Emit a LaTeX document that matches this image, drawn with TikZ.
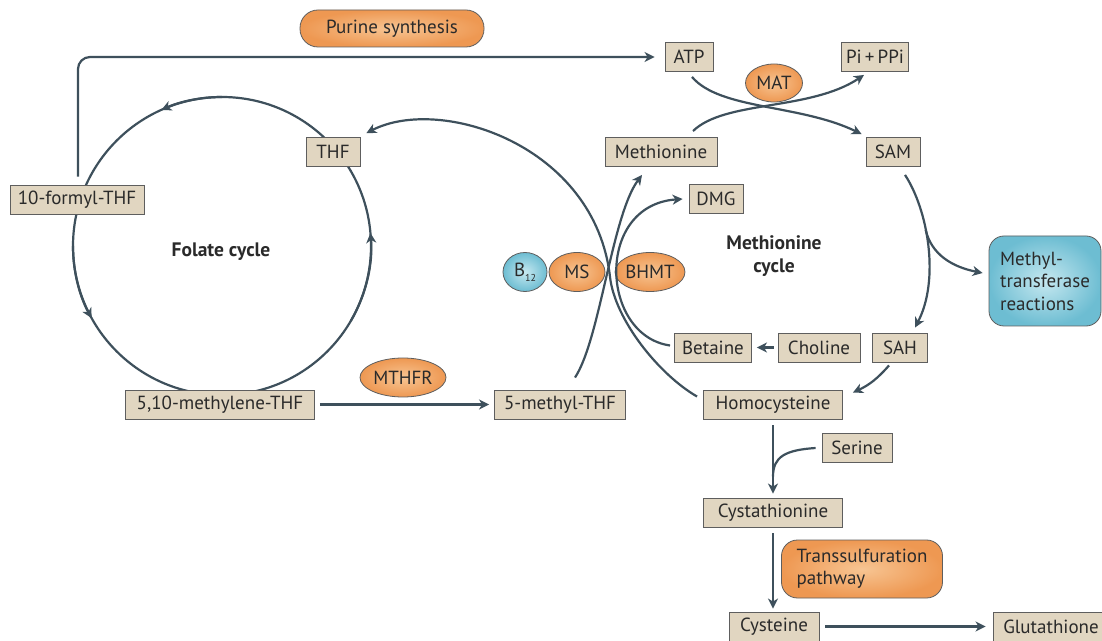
\documentclass[tikz,border=0pt]{standalone}
\usepackage{fontspec}
\setmainfont{PT Sans}
\usepackage{xcolor}
\definecolor{colLine}{HTML}{3E505C}
\definecolor{colBox}{HTML}{E1D6C1}
\definecolor{colBoxLine}{HTML}{5E5E5E}
\definecolor{colEnz}{HTML}{EE9852}
\definecolor{colEnzIn}{HTML}{F7C593}
\definecolor{colBlue}{HTML}{6DBDD2}
\definecolor{colBlueIn}{HTML}{C6E8F0}
\definecolor{colText}{HTML}{2A2A2A}
\usepackage{tikz}
\usetikzlibrary{arrows.meta, positioning, calc, shapes.geometric}

\begin{document}
\begin{tikzpicture}[x=1pt, y=1pt, font=\fontsize{19}{21}\selectfont, text=colText,
	metab/.style={draw=colBoxLine, line width=0.9pt, fill=colBox, minimum height=29pt, inner sep=0pt},
	enzyme/.style={ellipse, draw=colBoxLine, line width=0.8pt, inner color=colEnzIn, outer color=colEnz, inner sep=0pt, minimum height=39pt},
	cofac/.style={ellipse, draw=colBoxLine, line width=0.8pt, inner color=colBlueIn, outer color=colBlue, inner sep=0pt, minimum height=39pt},
	pathway/.style={draw=colBoxLine, line width=0.8pt, inner color=colEnzIn, outer color=colEnz, rounded corners=16pt, inner sep=0pt, align=left},
	cyclelabel/.style={font=\fontsize{19.5}{23}\selectfont\bfseries, align=center},
	flow/.style={draw=colLine, line width=2.2pt},
	arr/.style={flow, -{Stealth[length=10pt, width=10pt, inset=3pt]}},
]
	\useasboundingbox (0,0) rectangle (1102,640);
	\fill[white] (0,0) rectangle (1102,640);

	% folate cycle
	\draw[flow] (222,394) circle[radius=149];
	\draw[arr] (222,394) ++(90:149) arc[start angle=90, end angle=114, radius=149];
	\draw[arr] (222,394) ++(180:149) arc[start angle=180, end angle=209, radius=149];
	\draw[arr] (222,394) ++(-30:149) arc[start angle=-30, end angle=5, radius=149];

	\node[metab, minimum width=54pt] (thf) at (333,488) {THF};
	\node[metab, minimum width=134pt] (tenf) at (77,440.5) {10-formyl-THF};
	\node[metab, minimum width=189pt] (methylene) at (220,235.5) {5,10-methylene-THF};
	\node[metab, minimum width=131pt] (methylthf) at (560,235.5) {5-methyl-THF};
	\node[enzyme, minimum width=86pt] (mthfr) at (403,262.5) {MTHFR};
	\node[cyclelabel] (folate) at (221,388) {Folate cycle};
	\node[pathway, minimum width=184pt, minimum height=37pt, rounded corners=18pt, align=center] (purine) at (392,611.5) {Purine synthesis};

	% methionine cycle
	\node[metab, minimum width=48pt] (atp) at (689,583) {ATP};
	\node[metab, minimum width=67pt] (pippi) at (875,583) {Pi\,+\,PPi};
	\node[enzyme, minimum width=57pt, minimum height=38pt] (mat) at (774,557) {MAT};
	\node[metab, minimum width=112pt] (met) at (661,488) {Methionine};
	\node[metab, minimum width=54pt] (sam) at (893,488) {SAM};
	\node[metab, minimum width=54pt] (dmg) at (716,441) {DMG};
	\node[cyclelabel] (metcycle) at (774,384) {Methionine\\cycle};
	\node[cofac, minimum width=44pt] (b12) at (525,368) {B\raisebox{-5pt}{\fontsize{10}{10}\selectfont 12}};
	\node[enzyme, minimum width=56pt] (ms) at (577,368) {MS};
	\node[enzyme, minimum width=66pt] (bhmt) at (650,368) {BHMT};
	\node[draw=colBoxLine, line width=0.8pt, inner color=colBlueIn, outer color=colBlue, rounded corners=15pt,
		minimum width=112pt, minimum height=90pt, inner sep=0pt, align=left, font=\fontsize{19}{22.5}\selectfont] (mtr) at (1045,359) {Methyl-\\transferase\\reactions};
	\node[metab, minimum width=77pt] (betaine) at (713,292.5) {Betaine};
	\node[metab, minimum width=82pt] (choline) at (819,292.5) {Choline};
	\node[metab, minimum width=55pt] (sah) at (900,292.5) {SAH};
	\node[metab, minimum width=139pt] (hcy) at (773,235.5) {Homocysteine};

	% transsulfuration
	\node[metab, minimum width=70pt] (serine) at (857,192) {Serine};
	\node[metab, minimum width=139pt] (cysta) at (773,127.5) {Cystathionine};
	\node[pathway, minimum width=161pt, minimum height=58pt, font=\fontsize{19}{22}\selectfont] (trans) at (862,71) {Transsulfuration\\pathway};
	\node[metab, minimum width=90pt] (cys) at (774,13.5) {Cysteine};
	\node[metab, minimum width=116pt] (glut) at (1051,13.5) {Glutathione};

	\coordinate (cross) at (610,363);

	\draw[arr, rounded corners=12pt] ([xshift=1pt, yshift=8pt]tenf.north) |- ([xshift=-10pt]atp.west);
	\draw[arr, shorten <=5pt, shorten >=5pt] (methylene) -- (methylthf);
	\draw[arr] ([xshift=3pt, yshift=-5pt]atp.south) .. controls +(28,-33) and +(-62,30) .. ([xshift=-4pt, yshift=3pt]sam.north west);
	\draw[arr] ([xshift=32pt, yshift=6pt]met.north) .. controls +(32,31) and +(-54,-36) .. ([xshift=-11pt, yshift=-3pt]pippi.south);
	\draw[arr] ([xshift=12pt, yshift=-8pt]sam.south) .. controls +(23,-35) and +(25,48) .. ([xshift=15pt, yshift=5pt]sah.north) coordinate[pos=0.4] (branch);
	\draw[arr] (branch) .. controls +(6,-25) and +(-30,6) .. ([xshift=-6pt, yshift=8pt]mtr.west);
	\draw[arr] ([xshift=15pt, yshift=12pt]methylthf.north) .. controls +(25,38) and +(-30,-40) .. ([xshift=-19pt, yshift=-8pt]met.south);
	\draw[arr] ([xshift=-4pt, yshift=2pt]betaine.west) .. controls +(-70,10) and +(-88,-6) .. ([xshift=-6pt]dmg.west);
	\draw[arr] ([xshift=-6pt, yshift=-7pt]hcy.north west) .. controls +(-38,22) and +(5,-43) .. (cross)
		.. controls +(-15,132) and +(74,38) .. ([xshift=6pt, yshift=4pt]thf.north east);
	\draw[arr] ([xshift=-11pt, yshift=-3pt]sah.south) to[bend left=12] ([xshift=10pt, yshift=-3pt]hcy.north east);
	\draw[arr, shorten <=4pt, shorten >=5pt] (choline) -- (betaine);
	\draw[arr] ([yshift=-6pt]hcy.south) -- ([yshift=4pt]cysta.north) coordinate[pos=0.75] (join);
	\draw[flow] ([xshift=-6pt]serine.west) .. controls +(-30,-2) and +(0,20) .. (join);
	\draw[arr] ([yshift=-6pt]cysta.south) -- ([yshift=3pt]cysta.south |- cys.north);
	\draw[arr, shorten <=6pt, shorten >=7pt] (cys) -- (glut);
\end{tikzpicture}
\end{document}
